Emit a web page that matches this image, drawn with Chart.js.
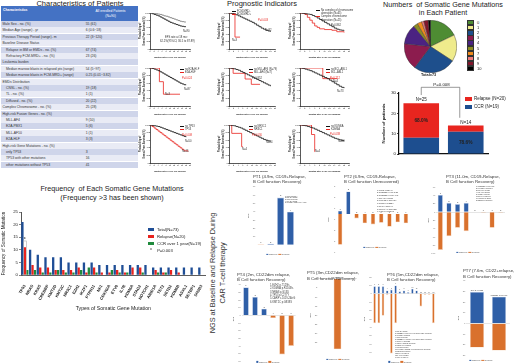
<!DOCTYPE html>
<html>
<head>
<meta charset="utf-8">
<script src="https://cdn.jsdelivr.net/npm/chart.js@4.4.1/dist/chart.umd.min.js"></script>
<style>
  html, body { margin: 0; padding: 0; }
  body { width: 520px; height: 363px; position: relative; overflow: hidden; background: #fff;
         font-family: "Liberation Sans", Arial, sans-serif; color: #222; }
  canvas { position: absolute; }
  .t { position: absolute; white-space: nowrap; line-height: 1; }
  .sq { display: inline-block; vertical-align: middle; }
  .cell { position: absolute; overflow: hidden; white-space: nowrap; font-size: 3.4px; color: #333; }
</style>
</head>
<body>
<script>
// ---- characteristics table ----
const tableLabels = ['Male Sex - no. (%)', 'Median Age (range) - yr', 'Previous Therapy Period (range)- m',
  'Baseline Disease Status', '  Relapse in BM or EMDs - no. (%)', '  Refractory FCM-MRD+ - no. (%)',
  'Leukemia burden', '  Median marrow blasts in relapsed pts (range)', '  Median marrow blasts in FCM-MRD+ (range)',
  'EMDs Distribution', '  CNSL - no. (%)', '  TL - no. (%)', '  Diffused - no. (%)',
  'Complex Chromosome - no. (%)', 'High-risk Fusion Genes - no. (%)', '  MLL-AF4', '  E2A-PBX1',
  '  MLL-AF10', '  E2A-HLF', 'High-risk Gene Mutations - no. (%)', '  only TP53',
  '  TP53 with other mutations', '  other mutations without TP53'];
const tableValues = ['55 (61)', '6 (0.6~18)', '22 (3~120)', '', '67 (74)', '23 (26)', '', '54 (5~97)',
  '0.25 (0.01~3.82)', '', '19 (18)', '1 (1)', '20 (22)', '25 (28)', '', '9 (10)', '5 (6)', '1 (1)',
  '3 (3)', '', '3', '16', '41'];

// ---- Kaplan-Meier panels: months and % event-free ----
const kmMonths = [0, 1, 2, 3, 4, 5, 6, 7, 8, 9, 10, 11, 12, 13, 14, 15, 16, 17, 18];
const efsAll   = [100, 98, 96, 94, 92, 89, 86, 83, 80, 77, 74, 72, 70, 68, 66, 64, 63, 62, 62];
const efsUpper = [100, 100, 99, 98, 97, 96, 94, 92, 91, 89, 87, 85, 83, 81, 79, 77, 76, 75, 75];
const mrdNeg   = [100, 99, 97, 95, 92, 89, 86, 83, 80, 77, 74, 70, 66, 62, 58, 55, 52, 50, 48];
const mrdPosT  = [0, 2.6, 4.8];
const mrdPos   = [100, 33, 33];
const cxNo     = [100, 99, 98, 97, 96, 93, 90, 86, 82, 78, 74, 70, 66, 62, 58, 55, 53, 52, 51];
const cxYesT   = [0, 2, 3, 4, 5, 6, 7, 8, 10, 13, 15, 18];
const cxYes    = [100, 96, 88, 80, 72, 64, 60, 56, 54, 52, 48, 46];
const hlfNo    = [100, 99, 97, 95, 93, 90, 87, 84, 81, 78, 75, 72, 69, 66, 63, 60, 58, 56, 55];
const hlfYesT  = [0, 4.7, 6.7, 15];
const hlfYes   = [100, 64, 31, 31];
const af4No    = [100, 99, 98, 96, 94, 91, 88, 85, 82, 79, 76, 73, 70, 67, 64, 61, 58, 55, 52];
const af4YesT  = [0, 1.8, 7, 9.7, 13.5];
const af4Yes   = [100, 86, 71, 57, 57];
const ablNo    = [100, 99, 97, 95, 93, 90, 87, 84, 81, 78, 75, 72, 68, 64, 60, 56, 52, 49, 47];
const ablYesT  = [0, 9.3, 15.2];
const ablYes   = [100, 72, 72];
const tp53No   = [100, 99, 98, 97, 96, 94, 92, 90, 88, 86, 84, 82, 80, 78, 76, 74, 72, 70, 68];
const tp53YesT = [0, 1, 2, 3, 4, 5, 6, 7, 8, 9, 10, 11, 12, 13, 14, 15, 16, 17, 19];
const tp53Yes  = [100, 96, 92, 88, 84, 80, 76, 72, 68, 64, 60, 56, 52, 48, 44, 40, 36, 32, 30];
const nr3No    = [100, 99, 98, 96, 94, 92, 89, 86, 83, 80, 77, 74, 71, 68, 65, 62, 60, 58, 57];
const nr3YesT  = [0, 1.2, 5.5, 6];
const nr3Yes   = [100, 78, 43, 43];
const kdmNo    = [100, 99, 98, 96, 94, 92, 89, 86, 83, 80, 77, 74, 71, 68, 65, 63, 61, 59, 58];
const kdmYesT  = [0, 4.7, 6, 6.2];
const kdmYes   = [100, 75, 30, 30];

// ---- mutations per patient ----
const pieLabels = ['0', '1', '2', '3', '4', '5', '7', '8', '9', '10'];
const pieCounts = [13, 12, 19, 12, 9, 2, 2, 1, 2, 1];
const pieColors = ['#4E8C33', '#EFEB8C', '#1E4F8C', '#8C1C4E', '#4B2382', '#8C8C24', '#EE8A1E', '#EF7B7B', '#80152B', '#000000'];

const mutGroups = ['\u22652 mutated genes', '<2 mutated genes'];
const ccrCounts = [8, 11];
const relapseCounts = [17, 3];
const groupTotals = [25, 14];
const groupPct = ['68.0%', '78.6%'];

// ---- frequency of each gene ----
const geneNames = ['TP53', 'NRAS', 'KRAS', 'CREBBP', 'KMT2D', 'KMT2C', 'NR3C1', 'EZH2', 'IKZF1', 'PTPN11',
  'NF1', 'CDKN2A', 'ETV6', 'IL7R', 'KDM6A', 'STAG2', 'NOTCH1', 'ARID1A', 'TET2', 'SETD2', 'KDM6B',
  'ASXL1', 'SETBP1', 'SH2B3'];
const geneTotal   = [21, 10, 8, 7, 7, 7, 5, 5, 5, 5, 4, 4, 4, 4, 4, 4, 4, 3, 3, 3, 3, 3, 3, 3];
const geneRelapse = [11, 4, 3, 3, 2, 2, 2, 3, 1, 3, 1, 1, 2, 1, 3, 3, 0, 2, 1, 2, 1, 0, 0, 0];
const geneCCR     = [2, 2, 1, 1, 2, 1, 1, 2, 3, 1, 0, 2, 1, 1, 0, 1, 0, 1, 1, 0, 0, 0, 0, 0];

// ---- NGS VAF, baseline (+) and relapse (-) ----
const pt1Base = [0, 1.5, 57, 40, 0, 0];
const pt1Rel  = [1, 0, 0, 0, 0, 0];
const pt2Base = [0.6, 4.1, 0, 0, 0, 0, 0, 0, 0];
const pt2Rel  = [-5.6, 0, -0.8, -1.7, -1.9, -1.6, -2.3, -1.5, -1.7];
const pt3Base = [41, 22, 19, 22, 0, 0, 0, 0];
const pt3Rel  = [-91, -58, -38, -46, 0, -2, -38, -2];
const pt4Base = [36.5, 24, 8.7, 0, 0, 0];
const pt4Rel  = [0, 0, 0, -3.5, -51, -40];
const pt5Base = [0];
const pt5Rel  = [-38.5];
const pt6Base = [9, 9, 9, 4, 5, 10, 3, 4, 2, 6, 4, 0, 0, 0, 0];
const pt6Rel  = [-35, -35, -26, -1, -71, -35, 0, 0, 0, 0, 0, -15, -1, -1, -35];
const pt7Base = [29.6, 25];
const pt7Rel  = [-22.7, -25.5];

const pt1Notes = ['1.TP53 p.E224X', '2.NRAS p.G12D', '3.TP53 p.R248Q', '4.KRAS p.G13D', '5.KMT2D c.1155+1G>A(WT)'];
const pt2Notes = ['1.TP53 p.E294X', '2.CREBBP p.G1411E', '3.CREBBP p.R1446C', '4.NRAS p.G12D', '5.KMT2D p.R2645X',
  '6.PTEN p.R233X', '7.NF1 p.Q1174X', '8.KDM6A p.R1163fs', '9.IKZF1 p.N159S'];
const pt3Notes = ['1.CREBBP p.R1446C', '2.KMT2D p.R5027X', '3.NRAS p.G12D', '4.KRAS p.G13D', '5.TP53 p.R175H',
  '6.ETV6 p.R369W', '7.PTPN11 p.E76K', '8.SETD2 p.R1598X'];
const pt4Notes = ['1.EZH2 p.T129fs', '2.KDM6A p.R1163fs', '3.NRAS p.G13D', '4.TP53 p.C277Y', '5.CARF c.1019-2A>G', '6.KMT2C p.G838S'];
const pt6Notes = ['1.NRAS p.G13D', '2.CREBBP p.R1446C exon.NM004380 (Relapse)', '3.KMT2D p.T1566fs', '4.TP53 p.R248Q',
  '5.CREBBP p.Y1503H exon.NM004380 (Relapse)', '6.KDM6A p.R1163fs', '7.IKZF1 p.N159S (Relapse)', '8.NOTCH1 p.L1586P',
  '9.PTPN11 p.E76K', '10.KMT2C p.G838S exon.NM170606 (Relapse)', '11.SETD2 p.R1598X', '12.ETV6 p.R369W',
  '13.JAK2 p.R683G', '14.NF1 p.Q1174X'];

// ---------- helpers ----------
Chart.defaults.font.family = '"Liberation Sans", Arial, sans-serif';
Chart.defaults.color = '#222';
Chart.defaults.animation = false;
Chart.defaults.responsive = false;
Chart.defaults.maintainAspectRatio = false;
Chart.defaults.devicePixelRatio = 1;
Chart.defaults.plugins.legend.display = false;
Chart.defaults.plugins.tooltip.enabled = false;

const NGS_BLUE = '#2F5FA7';
const NGS_ORANGE = '#D9712D';

function txt(x, y, s, css) {
  const d = document.createElement('div');
  d.className = 't';
  d.style.cssText = `left:${x}px;top:${y}px;` + (css || '');
  d.innerHTML = s;
  document.body.appendChild(d);
  return d;
}

// canvas whose chart area lands on (x0,y0)-(x1,y1)
function plotBox(x0, y0, x1, y1, yw, xh, pt, pr) {
  const left = Math.floor(x0 - yw), top = Math.floor(y0 - pt);
  const right = Math.ceil(x1 + pr), bottom = Math.ceil(y1 + xh);
  const c = document.createElement('canvas');
  c.width = right - left; c.height = bottom - top;
  c.style.cssText = `left:${left}px;top:${top}px;width:${right - left}px;height:${bottom - top}px`;
  document.body.appendChild(c);
  return { canvas: c, yw: x0 - left, xh: bottom - y1, pad: { top: y0 - top, right: right - x1, left: 0, bottom: 0 } };
}
const fixW = w => s => { s.width = w; s.paddingTop = 0; s.paddingBottom = 0; };
const fixH = h => s => { s.height = h; s.paddingLeft = 0; s.paddingRight = 0; };

// ---------- titles ----------
const center = 'transform:translateX(-50%);text-align:center;';
txt(80, -0.5, 'Characteristics of Patients', center + 'font-size:7.5px;line-height:8px;');
txt(262, -0.5, 'Prognostic Indicators', center + 'font-size:7.5px;line-height:8px;');
txt(443, 1, 'Numbers&nbsp; of Somatic Gene Mutations<br>in Each Patient', center + 'font-size:7.2px;line-height:7.5px;');
txt(112, 185, 'Frequency&nbsp; of Each Somatic Gene Mutations<br>(Frequency &gt;3 has been shown)', center + 'font-size:7.2px;line-height:8.5px;');
txt(143, 263, 'NGS at Baseline and Relapse During<br>CAR T-cell therapy',
  'width:150px;text-align:center;font-size:7.3px;line-height:10px;color:#333;transform:rotate(-90deg);transform-origin:75px 10px;');

// ---------- table ----------
function cell(x, y, w, h, bg, html, css) {
  const d = document.createElement('div');
  d.className = 'cell';
  d.style.cssText = `left:${x}px;top:${y}px;width:${w}px;height:${h}px;line-height:${h}px;background:${bg};` + (css || '');
  d.innerHTML = html;
  document.body.appendChild(d);
}
cell(1, 6.2, 81.6, 14.4, '#4472C4', 'Characteristics', 'color:#fff;font-weight:bold;padding-left:2px;width:79.6px;line-height:9px;');
cell(83.2, 6.2, 54.8, 14.4, '#4472C4', 'All enrolled Patients<br>(N=90)', 'color:#fff;text-align:center;line-height:5px;padding-top:2.5px;height:11.9px;');
tableLabels.forEach((lab, i) => {
  const y = 21 + i * 6.4;
  const bg = i % 2 ? '#E9EBF5' : '#CFD5EA';
  const ind = lab.startsWith('  ');
  cell(1, y, 81.6, 6, bg, lab.trim(), `padding-left:${ind ? 5 : 1.5}px;width:${ind ? 76.6 : 80.1}px;`);
  cell(83.2, y, 54.8, 6, bg, tableValues[i], 'padding-left:2.5px;width:52.3px;');
});

// ---------- Kaplan-Meier panels ----------
function kmPanel(x0, y0, x1, y1, curves) {
  const b = plotBox(x0, y0, x1, y1, 12, 9.5, 1, 1);
  const axisLine = { color: '#111', width: 0.7 };
  const tickGrid = { drawOnChartArea: false, tickLength: 1.2, color: '#111', lineWidth: 0.5 };
  new Chart(b.canvas, {
    type: 'line',
    data: {
      datasets: curves.map(c => ({
        data: c[0].map((t, i) => ({ x: t, y: c[1][i] })),
        borderColor: c[2], borderWidth: c[3] || 0.8, stepped: true, pointRadius: 0, fill: false
      }))
    },
    options: {
      layout: { padding: b.pad },
      scales: {
        x: {
          type: 'linear', min: 0, max: 20, border: axisLine, grid: tickGrid,
          ticks: { stepSize: 2, autoSkip: false, maxRotation: 0, font: { size: 1.9 }, padding: 0.3 },
          title: { display: true, text: 'Months after CART cell infusion', font: { size: 2.1, weight: 'bold' }, padding: 0 },
          afterFit: fixH(b.xh)
        },
        y: {
          min: 0, max: 100, border: axisLine, grid: tickGrid,
          ticks: { stepSize: 20, font: { size: 1.9 }, padding: 0.3 },
          title: { display: true, text: ['Probability of', 'Event-Free Survival (%)'], font: { size: 2.6, weight: 'bold', lineHeight: 1.55 }, padding: 0 },
          afterFit: fixW(b.yw)
        }
      }
    }
  });
}
const RED = '#E8231E';
function kmLegend(x, y, items) {
  items.forEach((it, i) => {
    const mark = it[1] ? `<span class="sq" style="width:4px;height:0;border-top:0.6px solid ${it[1]};margin-right:1px"></span>` : '<span class="sq" style="width:5px"></span>';
    txt(x, y + i * 3.2, mark + it[0], 'font-size:2.6px;color:#333;');
  });
}
function note(x, y, s, color) { txt(x, y, s, `font-size:2.7px;color:${color || '#333'};`); }

const COLS = [[150, 190], [229, 275], [300, 349]];
const ROWS = [[13, 49], [68, 106], [125, 163]];
const kmSets = [
  [[kmMonths, efsUpper, '#555', 0.6], [kmMonths, efsAll, '#111']],
  [[kmMonths, mrdNeg, '#111'], [mrdPosT, mrdPos, RED]],
  [[kmMonths, cxNo, '#111'], [cxYesT, cxYes, RED]],
  [[kmMonths, hlfNo, '#111'], [hlfYesT, hlfYes, RED]],
  [[kmMonths, af4No, '#111'], [af4YesT, af4Yes, RED]],
  [[kmMonths, ablNo, '#111'], [ablYesT, ablYes, RED]],
  [[kmMonths, tp53No, '#111'], [tp53YesT, tp53Yes, RED]],
  [[kmMonths, nr3No, '#111'], [nr3YesT, nr3Yes, RED]],
  [[kmMonths, kdmNo, '#111'], [kdmYesT, kdmYes, RED]]
];
kmSets.forEach((set, i) => {
  const c = COLS[i % 3], r = ROWS[Math.floor(i / 3)];
  kmPanel(c[0], r[0], c[1], r[1], set);
});

note(165, 37, 'EFS rate at 18 mo:');
note(160, 40.5, '62.2%(95%CI, 36.5 to 87.89)');
note(183, 31, 'N=90');
kmLegend(232, 10.5, [['FCM-MRD-', '#111'], ['FCM-MRD+', RED]]);
note(258, 20, 'P=0.003', RED); note(265, 30, 'N=82'); note(232, 40, 'N=3');
kmLegend(316, 10, [['No complex of chromosome', '#111'], ['aberration (N=65)', ''], ['Complex chromosome', RED], ['aberration (N=25)', '']]);
note(331, 25, 'P=0.862');
kmLegend(180, 69, [['no E2A-HLF', '#111'], ['E2A-HLF', RED]]);
note(182, 77.5, 'P=0.024', RED); note(184, 89, 'N=87'); note(165, 94, 'N=3');
kmLegend(249, 69, [['no MLL-AF4 (N=79)', '#111'], ['MLL-AF4 (N=7)', RED]]);
note(252, 77.5, 'P=0.852');
kmLegend(326, 69, [['no BCL-ABL1', '#111'], ['BCL-ABL1', RED]]);
note(330, 77.5, 'P=0.212', RED); note(333, 81, 'N=4'); note(337, 91, 'N=73');
kmLegend(180, 126, [['no TP53', '#111'], ['TP53', RED]]);
note(182, 134.5, 'P=0.008', RED); note(185, 141, 'N=50'); note(182, 151, 'N=15');
kmLegend(249, 126, [['no NR3C1', '#111'], ['NR3C1', RED]]);
note(252, 134.5, 'P=0.030', RED); note(266, 142, 'N=84'); note(242, 149, 'N=4');
kmLegend(326, 126, [['no KDM6A', '#111'], ['KDM6A', RED]]);
note(330, 134, 'P=0.038', RED); note(338, 140.5, 'N=84'); note(315, 151, 'N=4');

// ---------- pie ----------
const pieCanvas = document.createElement('canvas');
pieCanvas.width = 53; pieCanvas.height = 53;
pieCanvas.style.cssText = 'left:403.5px;top:19.5px;width:53px;height:53px';
document.body.appendChild(pieCanvas);
new Chart(pieCanvas, {
  type: 'pie',
  data: { labels: pieLabels, datasets: [{ data: pieCounts, backgroundColor: pieColors, borderColor: '#333', borderWidth: 0.4 }] },
  options: { layout: { padding: 0 } }
});
pieLabels.forEach((l, i) => {
  txt(467, 20 + i * 5.1, `<span class="sq" style="width:5px;height:3.4px;background:${pieColors[i]};border:0.4px solid #333;margin-right:3px"></span>${l}`, 'font-size:4px;');
});
txt(421, 74, 'Total=73', 'font-size:3.8px;font-weight:bold;');

// ---------- stacked bar ----------
const sb = plotBox(399, 93, 488, 154, 18, 10, 12, 2);
const stackNotes = {
  id: 'stackNotes',
  afterDatasetsDraw(chart) {
    const { ctx, scales: { x, y } } = chart;
    ctx.save();
    ctx.fillStyle = '#222';
    ctx.textAlign = 'center';
    ctx.font = '4.6px "Liberation Sans"';
    ctx.textBaseline = 'bottom';
    groupTotals.forEach((n, i) => ctx.fillText('N=' + n, x.getPixelForValue(i), y.getPixelForValue(n) - 0.8));
    ctx.font = 'bold 4.8px "Liberation Sans"';
    ctx.textBaseline = 'middle';
    ctx.fillText(groupPct[0], x.getPixelForValue(0), y.getPixelForValue(ccrCounts[0] + relapseCounts[0] / 2));
    ctx.fillText(groupPct[1], x.getPixelForValue(1), y.getPixelForValue(ccrCounts[1] / 2));
    // P bracket
    const xa = x.getPixelForValue(0), xb = x.getPixelForValue(1) - 6;
    const yt = y.getPixelForValue(32.8);
    ctx.strokeStyle = '#555'; ctx.lineWidth = 0.6;
    ctx.beginPath();
    ctx.moveTo(xa, y.getPixelForValue(29)); ctx.lineTo(xa, yt); ctx.lineTo(xb, yt); ctx.lineTo(xb, y.getPixelForValue(17.8));
    ctx.stroke();
    ctx.font = '4.4px "Liberation Sans"';
    ctx.textBaseline = 'bottom';
    ctx.fillText('P=0.008', (xa + xb) / 2 + 1, yt - 0.2);
    ctx.restore();
  }
};
new Chart(sb.canvas, {
  type: 'bar',
  data: {
    labels: mutGroups,
    datasets: [
      { label: 'CCR (N=19)', data: ccrCounts, backgroundColor: '#1D4E8F' },
      { label: 'Relapse (N=20)', data: relapseCounts, backgroundColor: '#E8251F' }
    ]
  },
  options: {
    layout: { padding: sb.pad },
    datasets: { bar: { barPercentage: 0.8, categoryPercentage: 1 } },
    scales: {
      x: {
        stacked: true, grid: { display: false }, border: { color: '#111', width: 1.2 },
        ticks: { font: { size: 4.3, weight: 'bold' }, padding: 2, color: '#111' },
        afterFit: fixH(sb.xh)
      },
      y: {
        stacked: true, min: 0, max: 30,
        ticks: { stepSize: 10, font: { size: 4.3 }, padding: 1, color: '#111' },
        grid: { drawOnChartArea: false, tickLength: 2, color: '#111', lineWidth: 0.8 },
        border: { color: '#111', width: 1.2 },
        title: { display: true, text: 'Number of patients', font: { size: 4.4, weight: 'bold' }, padding: 0 },
        afterFit: fixW(sb.yw)
      }
    }
  },
  plugins: [stackNotes]
});
txt(465, 96.6, '<span class="sq" style="width:7px;height:4.5px;background:#E8251F;margin-right:2px"></span>Relapse (N=20)', 'font-size:4.5px;');
txt(465, 104.6, '<span class="sq" style="width:7px;height:4.5px;background:#1D4E8F;margin-right:2px"></span>CCR (N=19)', 'font-size:4.5px;');

// ---------- frequency bar ----------
const fb = plotBox(21, 212, 205.6, 275, 20, 37, 3, 1);
const tp53Mark = {
  id: 'tp53Mark',
  afterDatasetsDraw(chart) {
    const { ctx, scales: { y } } = chart;
    const bar = chart.getDatasetMeta(1).data[0];
    const top = y.getPixelForValue(13.5), base = y.getPixelForValue(0);
    ctx.save();
    ctx.strokeStyle = '#aaa'; ctx.lineWidth = 0.6;
    ctx.strokeRect(bar.x - bar.width / 2 - 0.4, top, bar.width + 0.8, base - top);
    ctx.fillStyle = '#555'; ctx.textAlign = 'center'; ctx.textBaseline = 'middle';
    ctx.font = 'bold 5px "Liberation Sans"';
    ctx.fillText('*', bar.x, y.getPixelForValue(14.6) + 1);
    ctx.restore();
  }
};
new Chart(fb.canvas, {
  type: 'bar',
  data: {
    labels: geneNames,
    datasets: [
      { label: 'Total(N=73)', data: geneTotal, backgroundColor: '#1F4E96' },
      { label: 'Relapse(N=20)', data: geneRelapse, backgroundColor: '#E8231E' },
      { label: 'CCR over 1 year(N=19)', data: geneCCR, backgroundColor: '#1F8A3C' }
    ]
  },
  options: {
    layout: { padding: fb.pad },
    datasets: { bar: { categoryPercentage: 0.95, barPercentage: 0.95 } },
    scales: {
      x: {
        grid: { display: false }, border: { color: '#333', width: 0.8 },
        ticks: { font: { size: 4, weight: 'bold' }, minRotation: 60, maxRotation: 60, autoSkip: false, padding: 1, color: '#222' },
        title: { display: true, text: 'Types of Somatic Gene Mutation', font: { size: 5.2 }, padding: 0 },
        afterFit: fixH(fb.xh)
      },
      y: {
        min: 0, max: 25,
        ticks: { stepSize: 5, font: { size: 4.3 }, padding: 1, color: '#222' },
        grid: { drawOnChartArea: false, tickLength: 2, color: '#333', lineWidth: 0.6 },
        border: { color: '#555', width: 1 },
        title: { display: true, text: 'Frequency of Somatic Mutation', font: { size: 4.6 }, padding: 0 },
        afterFit: fixW(fb.yw)
      }
    }
  },
  plugins: [tp53Mark]
});
[['#1F4E96', 'Total(N=73)'], ['#E8231E', 'Relapse(N=20)'], ['#1F8A3C', 'CCR over 1 year(N=19)']].forEach((l, i) => {
  txt(148, 227.5 + i * 7, `<span class="sq" style="width:6px;height:3.4px;background:${l[0]};margin-right:3px"></span>${l[1]}`, 'font-size:4.2px;');
});
txt(148, 248.2, '<span class="sq" style="width:6px;text-align:center;color:#666;font-weight:bold;font-size:5px;margin-right:3px">*</span><i>P</i>=0.003', 'font-size:4.2px;');

// ---------- NGS panels ----------
const barTags = {
  id: 'barTags',
  afterDatasetsDraw(chart, args, opts) {
    const { ctx, scales: { y } } = chart;
    const m0 = chart.getDatasetMeta(0).data, m1 = chart.getDatasetMeta(1).data;
    const zero = y.getPixelForValue(0);
    ctx.save();
    ctx.font = opts.size + 'px "Liberation Sans"';
    ctx.fillStyle = '#444'; ctx.textAlign = 'center'; ctx.textBaseline = 'bottom';
    opts.tags.forEach((t, i) => ctx.fillText(t, m0[i].x, Math.min(m0[i].y, m1[i].y, zero) - 0.6));
    ctx.restore();
  }
};
function ngs(x0, y0, x1, y1, base, rel, min, max, step, bp, tags, tagSize) {
  const b = plotBox(x0, y0, x1, y1, 9, 0, 3, 1);
  b.pad.bottom = b.xh;
  const bw = c => (c.raw ? 0.6 : 0);
  new Chart(b.canvas, {
    type: 'bar',
    data: {
      labels: base.map((v, i) => String(i + 1)),
      datasets: [
        { label: 'Baseline', data: base, backgroundColor: NGS_BLUE, borderColor: '#C3D0EA', borderWidth: bw },
        { label: 'Relapse', data: rel, backgroundColor: NGS_ORANGE, borderColor: '#F4CDB0', borderWidth: bw }
      ]
    },
    options: {
      layout: { padding: b.pad },
      datasets: { bar: { barPercentage: bp, categoryPercentage: 1 } },
      scales: {
        x: { display: false, stacked: true },
        y: {
          stacked: true, min: min, max: max,
          ticks: { stepSize: step, font: { size: 2.3 }, color: '#777', padding: 0.8 },
          grid: { drawTicks: false, color: c => (c.tick.value === 0 ? '#d4d4d4' : 'rgba(0,0,0,0)'), lineWidth: 0.6 },
          border: { display: false },
          title: { display: true, text: 'VAF', font: { size: 2.3, weight: 'bold' }, padding: 0, color: '#555' },
          afterFit: fixW(b.yw)
        }
      },
      plugins: { barTags: { tags: tags, size: tagSize || 2.3 } }
    },
    plugins: [barTags]
  });
}
function ngsTitle(x, y, l1, l2) { txt(x, y, l1 + '<br>' + l2, 'font-size:4.3px;line-height:5.6px;color:#333;'); }
function ngsLegend(cx, cy) {
  txt(cx, cy, `<span class="sq" style="width:2.2px;height:1.6px;background:${NGS_BLUE};margin-right:0.7px"></span>Baseline&nbsp;&nbsp;` +
    `<span class="sq" style="width:2.2px;height:1.6px;background:${NGS_ORANGE};margin-right:0.7px"></span>Relapse`,
    'font-size:2.2px;color:#555;transform:translate(-50%,-50%);');
}
function ngsNotes(x, y, list, size, lh) { txt(x, y, list.join('<br>'), `font-size:${size}px;line-height:${lh}px;color:#444;`); }
const nums = n => Array.from({ length: n }, (v, i) => String(i + 1));

ngs(256, 186.7, 315, 245, pt1Base, pt1Rel, 0, 70, 10, 0.72, ['1', '2', '3', '4', '', '']);
ngs(336, 186.5, 410, 252.5, pt2Base, pt2Rel, -7, 5, 1, 0.55, nums(9));
ngs(436, 187, 505, 253.7, pt3Base, pt3Rel, -100, 60, 20, 0.6, ['1', '2', '3', '4', '5', '6', '7', '8']);
ngs(241.5, 277, 295.6, 361.3, pt4Base, pt4Rel, -60, 50, 10, 0.63, nums(6));
ngs(318, 278.7, 357, 352, pt5Base, pt5Rel, -40, 0, 5, 0.2, ['NRAS p.G13D'], 1.9);
ngs(372.5, 277, 435.5, 361, pt6Base, pt6Rel, -80, 20, 10, 0.62, nums(15), 1.6);
ngs(466, 280.7, 510, 355.3, pt7Base, pt7Rel, -30, 40, 10, 0.64, ['NRAS p.G13D', 'CREBBP p.R1446C'], 1.9);

ngsTitle(253, 173.5, 'PT1 (4.9m, CD19+Relapse,', 'B Cell function Recovery)');
ngsTitle(344, 173.5, 'PT2 (6.9m, CD19-Relapse,', 'B Cell function Unrecovered)');
ngsTitle(446, 173.5, 'PT3 (11.0m, CD19-Relapse,', 'B Cell function Recovery)');
ngsTitle(237, 271.5, 'PT4 (2m, CD22dim relapse,', 'B Cell function Recovery)');
ngsTitle(307, 270, 'PT5 (3m,CD22dim relapse,', 'B Cell function Recovery)');
ngsTitle(387, 271.5, 'PT6 (5m,CD22dim relapse,', 'B Cell function Recovery)');
ngsTitle(463, 268, 'PT7 (7.6m, CD22+relapse,', 'B Cell function Recovery)');

ngsLegend(278, 254); ngsLegend(375, 247); ngsLegend(468, 252);
ngsLegend(268, 361.5); ngsLegend(338, 359); ngsLegend(400, 361.5); ngsLegend(481, 360);

ngsNotes(285, 195.8, pt1Notes, 1.7, 1.67);
ngsNotes(377, 188.8, pt2Notes, 2.2, 2.67);
ngsNotes(476, 184.5, pt3Notes, 1.9, 2.1);
ngsNotes(270, 284, pt4Notes, 2.6, 3.33);
ngsNotes(395, 329.5, pt6Notes, 1.7, 2);
</script>
</body>
</html>
